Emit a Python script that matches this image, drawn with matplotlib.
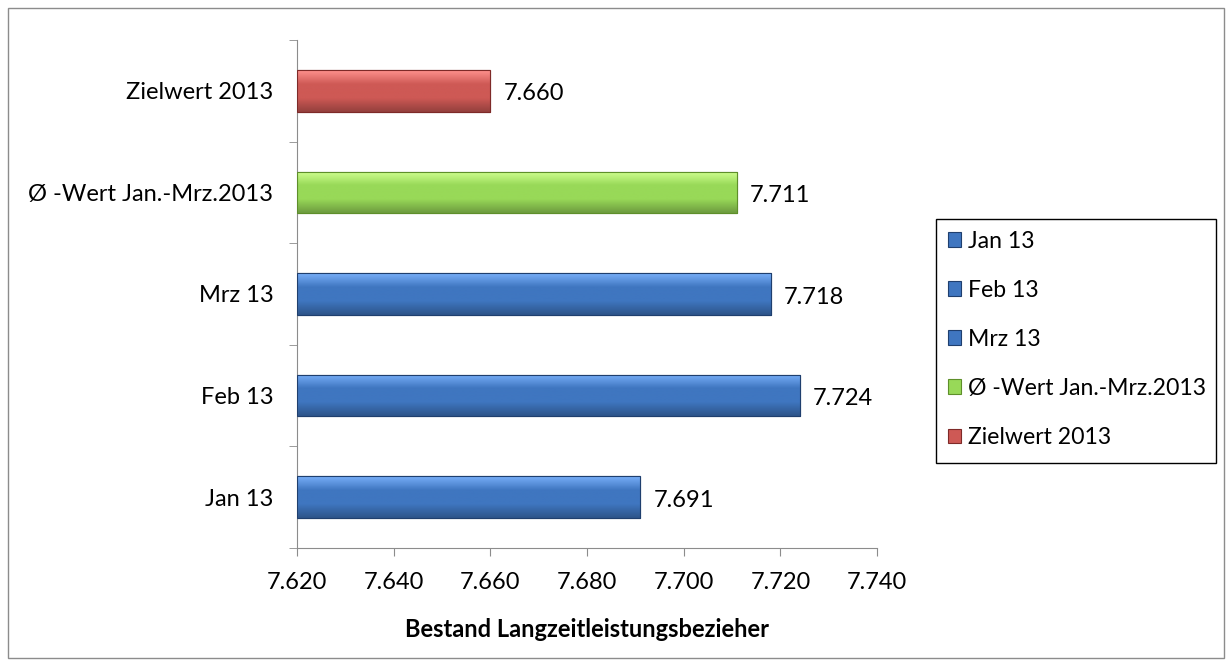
import matplotlib
matplotlib.use("Agg")
import matplotlib.pyplot as plt
import numpy as np
from matplotlib.patches import Patch, Rectangle
from matplotlib.colors import LinearSegmentedColormap, to_rgb

plt.rcParams['font.family'] = ['Lato', 'DejaVu Sans']

categories = ["Jan 13", "Feb 13", "Mrz 13", "Ø -Wert Jan.-Mrz.2013", "Zielwert 2013"]
values = [7.691, 7.724, 7.718, 7.711, 7.660]
value_labels = ["7.691", "7.724", "7.718", "7.711", "7.660"]
colors = ["#3F76C0", "#3F76C0", "#3F76C0", "#98D958", "#CE5955"]
edge_colors = ["#1F3F6E", "#1F3F6E", "#1F3F6E", "#5E8F2A", "#7E2A28"]
xticks = [7.620, 7.640, 7.660, 7.680, 7.700, 7.720, 7.740]
xtick_labels = ["7.620", "7.640", "7.660", "7.680", "7.700", "7.720", "7.740"]
xlabel = "Bestand Langzeitleistungsbezieher"

FS = 17

fig = plt.figure(figsize=(12.32, 6.66), dpi=100)
# outer border
fig.patches.append(Rectangle((0.0065, 0.012), 0.987, 0.976, transform=fig.transFigure,
                             fill=False, edgecolor="#8C8C8C", linewidth=1.0))
ax = fig.add_axes([0.2411, 0.1772, 0.4708, 0.7628])

xmin = xticks[0]
y = np.arange(len(categories))
bars = ax.barh(y, [v - xmin for v in values], left=xmin, height=0.41,
               color=colors, edgecolor=edge_colors, linewidth=0.8, zorder=2)

# bevel-like vertical gradient clipped to each bar
for b, c in zip(bars, colors):
    base = np.array(to_rgb(c))
    light = np.clip(base + 0.22, 0, 1)
    dark = base * 0.72
    cmap = LinearSegmentedColormap.from_list("g", [dark, base, base, light], N=256)
    x0, y0 = b.get_x(), b.get_y()
    w, h = b.get_width(), b.get_height()
    grad = np.linspace(0, 1, 64).reshape(-1, 1)
    im = ax.imshow(grad, cmap=cmap, aspect="auto", origin="lower",
                   extent=(x0, x0 + w, y0, y0 + h), zorder=2.5)
    im.set_clip_path(b)
    ax.add_patch(Rectangle((x0, y0), w, h, fill=False, edgecolor=b.get_edgecolor(),
                           linewidth=0.8, zorder=3))

for v, lab, yy in zip(values, value_labels, y):
    ax.text(v + 0.0027, yy - 0.03, lab, va="center", ha="left", fontsize=FS, color="black")

ax.set_xlim(xticks[0], xticks[-1])
ax.set_ylim(-0.5, len(categories) - 0.5)
ax.set_xticks(xticks)
ax.set_xticklabels(xtick_labels, fontsize=FS)
ax.set_yticks(y)
ax.set_yticklabels(categories, fontsize=FS)
ax.set_yticks(np.arange(-0.5, len(categories), 1.0), minor=True)
ax.tick_params(axis="y", which="major", length=0, pad=17)
ax.tick_params(axis="y", which="minor", length=6, color="#8C8C8C", direction="out")
ax.tick_params(axis="x", length=6, color="#8C8C8C", direction="out", pad=11)
for s in ["top", "right"]:
    ax.spines[s].set_visible(False)
for s in ["left", "bottom"]:
    ax.spines[s].set_color("#8C8C8C")
ax.set_xlabel(xlabel, fontsize=FS, fontweight="bold", labelpad=18)

# legend box
bx0, by0, bx1, by1 = 936 / 1232, 1 - 463 / 666, 1216 / 1232, 1 - 219 / 666
fig.patches.append(Rectangle((bx0, by0), bx1 - bx0, by1 - by0, transform=fig.transFigure,
                             fill=False, edgecolor="black", linewidth=1.0))
handles = [Patch(facecolor=c, edgecolor=e, linewidth=0.8) for c, e in zip(colors, edge_colors)]
leg = fig.legend(handles, categories, loc="upper left", bbox_to_anchor=(bx0, by1),
                 fontsize=16.6, frameon=False, handlelength=0.6,
                 handleheight=0.6, handletextpad=0.3, labelspacing=1.22,
                 borderpad=0.5, borderaxespad=0)

fig.savefig("out.png", dpi=100)
